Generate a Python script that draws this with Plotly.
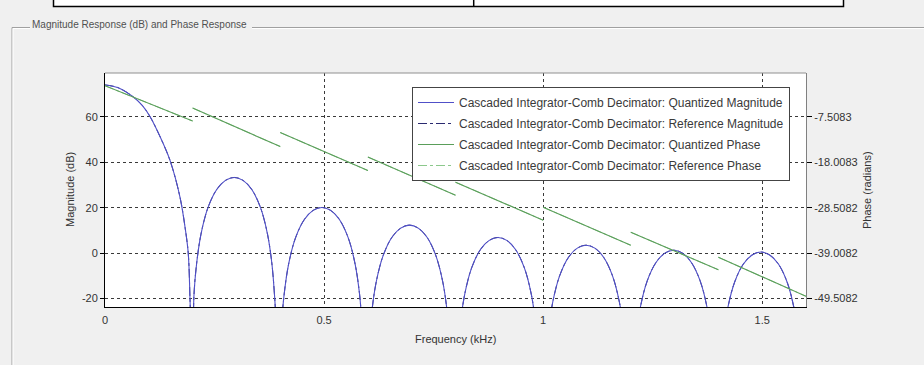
import plotly.graph_objects as go

# ---------------- data ----------------
# Magnitude response (dB) of the CIC decimator, frequency in kHz
mag_freq_khz = [
    0.000, 0.030, 0.064, 0.085, 0.103, 0.125, 0.148, 0.171, 0.183, 0.190, 0.194, 0.200,
    0.203, 0.209, 0.219, 0.235, 0.255, 0.275, 0.295, 0.315, 0.335, 0.355, 0.371, 0.381, 0.387, 0.400,
    0.403, 0.409, 0.419, 0.435, 0.455, 0.475, 0.495, 0.515, 0.535, 0.555, 0.571, 0.581, 0.587, 0.600,
    0.603, 0.609, 0.619, 0.635, 0.655, 0.675, 0.695, 0.715, 0.735, 0.755, 0.771, 0.781, 0.787, 0.800,
    0.805, 0.811, 0.821, 0.837, 0.857, 0.877, 0.897, 0.917, 0.937, 0.957, 0.973, 0.983, 0.989, 1.000,
    1.006, 1.012, 1.022, 1.038, 1.058, 1.078, 1.098, 1.118, 1.138, 1.158, 1.174, 1.184, 1.190, 1.200,
    1.206, 1.212, 1.222, 1.238, 1.258, 1.278, 1.298, 1.318, 1.338, 1.358, 1.374, 1.384, 1.390, 1.400,
    1.405, 1.411, 1.421, 1.437, 1.457, 1.477, 1.497, 1.517, 1.537, 1.557, 1.573, 1.583, 1.589, 1.600,
]
mag_db = [
    74.0, 72.8, 68.8, 65.0, 60.0, 51.5, 41.0, 24.8, 11.0, 0.0, -20.0, -60.0,
    -18.7, -4.8, 8.3, 20.0, 28.0, 32.0, 33.3, 32.0, 28.0, 20.0, 8.3, -4.8, -18.7, -60.0,
    -31.9, -18.0, -4.9, 6.8, 14.8, 18.8, 20.1, 18.8, 14.8, 6.8, -4.9, -18.0, -31.9, -60.0,
    -39.7, -25.8, -12.7, -1.0, 7.0, 11.0, 12.3, 11.0, 7.0, -1.0, -12.7, -25.8, -39.7, -60.0,
    -45.1, -31.2, -18.1, -6.4, 1.6, 5.6, 6.9, 5.6, 1.6, -6.4, -18.1, -31.2, -45.1, -60.0,
    -48.5, -34.6, -21.5, -9.8, -1.8, 2.2, 3.5, 2.2, -1.8, -9.8, -21.5, -34.6, -48.5, -60.0,
    -50.7, -36.8, -23.7, -12.0, -4.0, 0.0, 1.3, 0.0, -4.0, -12.0, -23.7, -36.8, -50.7, -60.0,
    -51.5, -37.6, -24.5, -12.8, -4.8, -0.8, 0.5, -0.8, -4.8, -12.8, -24.5, -37.6, -51.5, -60.0,
]

# Phase response (radians): wrapped linear segments
phase_freq_khz = [0.0, 0.2, None, 0.2, 0.4, None, 0.4, 0.6, None, 0.6, 0.8, None,
                  0.8, 1.0, None, 1.0, 1.2, None, 1.2, 1.4, None, 1.4, 1.6]
phase_rad = [-0.35, -8.50, None, -5.50, -14.40, None, -11.16, -19.95, None, -16.83, -25.62, None,
             -22.61, -31.40, None, -28.40, -37.19, None, -34.18, -42.85, None, -39.96, -48.98]

series_names = [
    "Cascaded Integrator-Comb Decimator: Quantized Magnitude",
    "Cascaded Integrator-Comb Decimator: Reference Magnitude",
    "Cascaded Integrator-Comb Decimator: Quantized Phase",
    "Cascaded Integrator-Comb Decimator: Reference Phase",
]

x_ticks = [0, 0.5, 1, 1.5]
x_ticktext = ["0", "0.5", "1", "1.5"]
mag_ticks = [-20, 0, 20, 40, 60]
mag_ticktext = ["-20", "0", "20", "40", "60"]
phase_ticks = [-49.5082, -39.0082, -28.5082, -18.0083, -7.5083]
phase_ticktext = ["-49.5082", "-39.0082", "-28.5082", "-18.0083", "-7.5083"]

# ---------------- layout constants ----------------
W, H = 924, 365
ML, MR, MT, MB = 105, 118, 73, 58
mag_range = [-23.7, 79.25]
phase_range = [-39.0082 + 0.525 * v for v in mag_range]

BLUE = "#5050c8"
BLUE_REF = "#2a2a70"
GREEN = "#5a9e5a"
GREEN_REF = "#8cc88c"
FONT = "Liberation Sans, Arial, sans-serif"


def px_x(px):
    return (px - ML) / (W - ML - MR)


def px_y(py):
    return (H - MB - py) / (H - MT - MB)


fig = go.Figure()

fig.add_trace(go.Scatter(
    x=mag_freq_khz, y=mag_db, name=series_names[1], mode="lines",
    line=dict(color=BLUE_REF, width=1, dash="dashdot", shape="spline"),
    legendrank=2, legendgroup="g2", yaxis="y"))
fig.add_trace(go.Scatter(
    x=mag_freq_khz, y=mag_db, name=series_names[0], mode="lines",
    line=dict(color=BLUE, width=1.1, shape="spline"),
    legendrank=1, legendgroup="g1", yaxis="y"))
fig.add_trace(go.Scatter(
    x=phase_freq_khz, y=phase_rad, name=series_names[3], mode="lines",
    line=dict(color=GREEN_REF, width=1, dash="dashdot"),
    legendrank=4, legendgroup="g4", yaxis="y2"))
fig.add_trace(go.Scatter(
    x=phase_freq_khz, y=phase_rad, name=series_names[2], mode="lines",
    line=dict(color=GREEN, width=1.1),
    legendrank=3, legendgroup="g3", yaxis="y2"))

grid = dict(showgrid=True, gridcolor="#3a3a3a", gridwidth=1, griddash="dot")

fig.update_layout(
    width=W, height=H,
    margin=dict(l=ML, r=MR, t=MT, b=MB, pad=0),
    paper_bgcolor="#f0f0f0", plot_bgcolor="#ffffff",
    font=dict(family=FONT, size=11, color="#333333"),
    showlegend=True,
    legend=dict(
        x=px_x(412), y=px_y(87), xanchor="left", yanchor="top",
        bgcolor="#ffffff", bordercolor="#444444", borderwidth=1,
        font=dict(family=FONT, size=12, color="#3a3a3a"),
        tracegroupgap=2, traceorder="grouped", itemwidth=36,
    ),
    xaxis=dict(
        range=[0, 1.6], tickvals=x_ticks, ticktext=x_ticktext,
        showline=True, linecolor="#000000", linewidth=1, mirror=False,
        ticks="outside", ticklen=3, tickcolor="rgba(0,0,0,0)",
        zeroline=False, **grid,
    ),
    yaxis=dict(
        range=mag_range, tickvals=mag_ticks, ticktext=mag_ticktext,
        showline=True, linecolor="#000000", linewidth=1,
        ticks="outside", ticklen=4, tickcolor="#000000",
        zeroline=False, **grid,
    ),
    yaxis2=dict(
        range=phase_range, tickvals=phase_ticks, ticktext=phase_ticktext,
        overlaying="y", side="right", anchor="x",
        showline=True, linecolor="#808080", linewidth=1,
        ticks="outside", ticklen=5, tickcolor="#000000",
        showgrid=False, zeroline=False,
    ),
)

shapes = []
# top frame line of axes (grey)
shapes.append(dict(type="line", xref="paper", yref="paper", x0=0, x1=1, y0=1, y1=1,
                   line=dict(color="#909090", width=1)))
# group box etched border
for off, col in [(0, "#a0a0a0"), (1, "#ffffff")]:
    y = px_y(27.5 + off)
    shapes.append(dict(type="line", xref="paper", yref="paper",
                       x0=px_x(12 + off), x1=px_x(30), y0=y, y1=y, line=dict(color=col, width=1)))
    shapes.append(dict(type="line", xref="paper", yref="paper",
                       x0=px_x(252), x1=px_x(924), y0=y, y1=y, line=dict(color=col, width=1)))
    shapes.append(dict(type="line", xref="paper", yref="paper",
                       x0=px_x(12 + off), x1=px_x(12 + off), y0=px_y(27.5 + off), y1=px_y(366),
                       line=dict(color=col, width=1)))
# white header box cut at the top of the window
shapes.append(dict(type="rect", xref="paper", yref="paper",
                   x0=px_x(53.5), x1=px_x(843.5), y0=px_y(6.5), y1=px_y(-5),
                   fillcolor="#ffffff", line=dict(color="#000000", width=1.5)))
shapes.append(dict(type="line", xref="paper", yref="paper",
                   x0=px_x(473.7), x1=px_x(473.7), y0=px_y(6.5), y1=px_y(-5),
                   line=dict(color="#000000", width=1.5)))
fig.update_layout(shapes=shapes)

annotations = [
    dict(text="Magnitude Response (dB) and Phase Response", xref="paper", yref="paper",
         x=px_x(30), y=px_y(24.5), xanchor="left", yanchor="middle", showarrow=False,
         font=dict(family=FONT, size=10, color="#505050"), bgcolor="#f0f0f0"),
    dict(text="Frequency (kHz)", xref="paper", yref="paper",
         x=0.5, y=px_y(339), xanchor="center", yanchor="middle", showarrow=False,
         font=dict(family=FONT, size=11, color="#333333")),
    dict(text="Magnitude (dB)", xref="paper", yref="paper",
         x=px_x(70), y=0.5, xanchor="center", yanchor="middle", showarrow=False,
         textangle=-90, font=dict(family=FONT, size=11, color="#333333")),
    dict(text="Phase (radians)", xref="paper", yref="paper",
         x=px_x(867), y=0.5, xanchor="center", yanchor="middle", showarrow=False,
         textangle=-90, font=dict(family=FONT, size=11, color="#333333")),
]
fig.update_layout(annotations=annotations)

fig.write_html(
    "out.html",
    config={"displayModeBar": False},
    post_script="document.body.style.margin='0';document.body.style.padding='0';"
                "document.body.style.overflow='hidden';",
)
